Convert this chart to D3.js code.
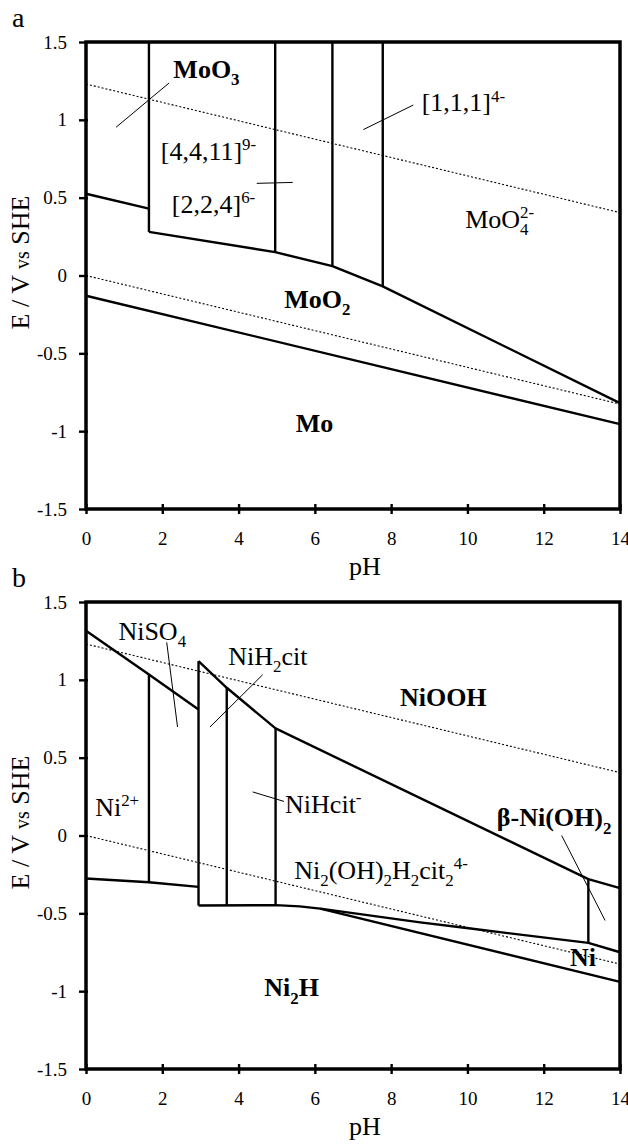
<!DOCTYPE html>
<html>
<head>
<meta charset="utf-8">
<script src="https://cdn.jsdelivr.net/npm/d3@7"></script>
<style>
  body { margin: 0; background: #fff; }
  svg text { font-family: "Liberation Serif", "Tinos", "Times New Roman", Times, "DejaVu Serif", "Noto Serif", "FreeSerif", serif !important; }
</style>
</head>
<body>
<div id="chart"></div>
<script>
// axis ticks
const phTicks = [0, 2, 4, 6, 8, 10, 12, 14];
const eTicks = [-1.5, -1, -0.5, 0, 0.5, 1, 1.5];

// water stability lines (pH, E)
const waterUpper = [[0, 1.23], [14, 0.404]];
const waterLower = [[0, 0], [14, -0.826]];

// panel a : Mo boundaries (pH, E)
const moO3Edge = [[0, 0.525], [1.65, 0.43]];
const moPolyVert1 = [[1.65, 1.5], [1.65, 0.28]];
const moPolyVert2 = [[4.96, 1.5], [4.96, 0.15]];
const moPolyVert3 = [[6.46, 1.5], [6.46, 0.06]];
const moPolyVert4 = [[7.78, 1.5], [7.78, -0.07]];
const moO2Upper = [[1.65, 0.28], [4.96, 0.15], [6.46, 0.06], [7.78, -0.07], [14, -0.82]];
const moLower = [[0, -0.13], [14, -0.955]];

// panel b : Ni boundaries (pH, E)
const niOxUpper = [[0, 1.316], [1.65, 1.034], [2.95, 0.81]];
const citOxUpper = [[2.95, 1.12], [3.69, 0.949], [4.97, 0.688], [13.17, -0.28], [14, -0.338]];
const niVert1 = [[1.65, 1.034], [1.65, -0.30]];
const niVert2 = [[2.95, 1.12], [2.95, -0.45]];
const niVert3 = [[3.69, 0.949], [3.69, -0.447]];
const niVert4 = [[4.97, 0.688], [4.97, -0.447]];
const niVert5 = [[13.17, -0.28], [13.17, -0.69]];
const niRedLower = [[0, -0.276], [1.65, -0.30], [2.95, -0.33]];
const citRedFlat = [[2.95, -0.45], [4.97, -0.447], [5.6, -0.455], [6.14, -0.47]];
const citRedUpper = [[6.14, -0.47], [8.76, -0.558], [10.03, -0.596], [13.17, -0.69], [14, -0.75]];
const niHydride = [[6.14, -0.47], [14, -0.94]];

// region labels: text parts, anchor (pH, E)
const moLabels = [
  {parts: [{t: "MoO"}, {t: "3", s: "sub"}], ph: 2.29, e: 1.269, bold: true},
  {parts: [{t: "[4,4,11]"}, {t: "9-", s: "sup"}], ph: 1.96, e: 0.744},
  {parts: [{t: "[2,2,4]"}, {t: "6-", s: "sup"}], ph: 2.25, e: 0.402},
  {parts: [{t: "[1,1,1]"}, {t: "4-", s: "sup"}], ph: 8.80, e: 1.054},
  {parts: [{t: "MoO"}, {t: "4", s: "sub"}, {t: "2-", s: "sup", back: 1}], ph: 9.94, e: 0.305},
  {parts: [{t: "MoO"}, {t: "2", s: "sub"}], ph: 5.20, e: -0.208, bold: true},
  {parts: [{t: "Mo"}], ph: 5.50, e: -1.007, bold: true}
];
const moLeaders = [
  [[2.18, 1.237], [0.787, 0.952]],
  [[4.476, 0.592], [5.42, 0.598]],
  [[8.58, 1.095], [7.27, 0.937]]
];

const niLabels = [
  {parts: [{t: "NiSO"}, {t: "4", s: "sub"}], ph: 0.85, e: 1.258},
  {parts: [{t: "NiH"}, {t: "2", s: "sub"}, {t: "cit"}], ph: 3.73, e: 1.097},
  {parts: [{t: "NiHcit"}, {t: "-", s: "sup"}], ph: 5.22, e: 0.145},
  {parts: [{t: "Ni"}, {t: "2", s: "sub"}, {t: "(OH)"}, {t: "2", s: "sub"}, {t: "H"}, {t: "2", s: "sub"},
           {t: "cit"}, {t: "2", s: "sub"}, {t: "4-", s: "sup"}], ph: 5.46, e: -0.277},
  {parts: [{t: "Ni"}, {t: "2+", s: "sup"}], ph: 0.24, e: 0.123},
  {parts: [{t: "NiOOH"}], ph: 8.23, e: 0.829, bold: true},
  {parts: [{t: "β-Ni(OH)"}, {t: "2", s: "sub"}], ph: 10.77, e: 0.059, bold: true},
  {parts: [{t: "Ni"}], ph: 12.69, e: -0.836, bold: true},
  {parts: [{t: "Ni"}, {t: "2", s: "sub"}, {t: "H"}], ph: 4.675, e: -1.033, bold: true}
];
const niLeaders = [
  [[2.116, 1.241], [2.40, 0.697]],
  [[4.633, 1.033], [3.25, 0.697]],
  [[4.37, 0.280], [5.19, 0.219]],
  [[12.47, 0.0], [13.61, -0.546]]
];

const width = 628, height = 1144;
const plotLeft = 86, plotRight = 620, plotH = 467;

const svg = d3.select("#chart").append("svg")
    .attr("width", width)
    .attr("height", height)
    .attr("viewBox", [0, 0, width, height]);

function richText(g, x, y, parts, fs, bold) {
  const t = g.append("text")
      .attr("x", x).attr("y", y)
      .attr("font-size", fs)
      .attr("font-weight", bold ? "bold" : null);
  let shift = 0, lastW = 0;
  parts.forEach(p => {
    const target = p.s === "sub" ? fs * 0.28 : p.s === "sup" ? -fs * 0.38 : 0;
    const ts = t.append("tspan").attr("dy", target - shift).text(p.t);
    if (p.s) ts.attr("font-size", fs * 0.65);
    if (p.back) ts.attr("dx", -lastW);
    lastW = p.s ? fs * 0.65 * 0.5 * p.t.length : 0;
    shift = target;
  });
  return t;
}

function drawPanel(top, letter, lines, dotted, labels, leaders) {
  const x = d3.scaleLinear().domain([0, 14]).range([plotLeft, plotRight]);
  const y = d3.scaleLinear().domain([-1.5, 1.5]).range([top + plotH, top]);
  const g = svg.append("g");
  const line = d3.line().x(d => x(d[0])).y(d => y(d[1]));

  // water lines
  dotted.forEach(d => g.append("path")
      .attr("d", line(d))
      .attr("fill", "none")
      .attr("stroke", "#000")
      .attr("stroke-width", 1.1)
      .attr("stroke-dasharray", "2,2"));

  // phase boundaries
  lines.forEach(d => g.append("path")
      .attr("d", line(d))
      .attr("fill", "none")
      .attr("stroke", "#000")
      .attr("stroke-width", 2.4)
      .attr("stroke-linejoin", "round"));

  // leader lines
  leaders.forEach(d => g.append("path")
      .attr("d", line(d))
      .attr("stroke", "#000")
      .attr("stroke-width", 1));

  labels.forEach(l => richText(g, x(l.ph), y(l.e), l.parts, 26, l.bold));

  // axes
  const xAxis = d3.axisBottom(x).tickValues(phTicks).tickSize(5).tickPadding(18).tickFormat(d => String(d));
  g.append("g")
      .attr("transform", `translate(0,${top + plotH})`)
      .call(xAxis)
      .call(a => a.select(".domain").remove())
      .call(a => a.selectAll(".tick line").attr("y1", -5).attr("stroke-width", 2.4))
      .call(a => a.selectAll(".tick text").attr("font-size", 19));

  const yAxis = d3.axisLeft(y).tickValues(eTicks).tickSize(7).tickPadding(12).tickFormat(d => String(d));
  g.append("g")
      .attr("transform", `translate(${plotLeft},0)`)
      .call(yAxis)
      .call(a => a.select(".domain").remove())
      .call(a => a.selectAll(".tick line").attr("x2", 2).attr("x1", -7).attr("stroke-width", 2.4))
      .call(a => a.selectAll(".tick text").attr("font-size", 19));

  // frame
  g.append("rect")
      .attr("x", plotLeft).attr("y", top)
      .attr("width", plotRight - plotLeft).attr("height", plotH)
      .attr("fill", "none")
      .attr("stroke", "#000")
      .attr("stroke-width", 3.5);

  // axis titles
  g.append("text")
      .attr("x", 365).attr("y", top + plotH + 66)
      .attr("text-anchor", "middle")
      .attr("font-size", 26)
      .text("pH");

  const yt = g.append("text")
      .attr("transform", `translate(29,${top + plotH / 2 - 13}) rotate(-90)`)
      .attr("text-anchor", "middle")
      .attr("font-size", 26);
  yt.append("tspan").text("E / V ");
  yt.append("tspan").attr("font-size", 20).text("vs");
  yt.append("tspan").text(" SHE");

  g.append("text")
      .attr("x", 12).attr("y", top - 15)
      .attr("font-size", 28)
      .text(letter);
}

drawPanel(42, "a",
  [moO3Edge, moPolyVert1, moPolyVert2, moPolyVert3, moPolyVert4, moO2Upper, moLower],
  [waterUpper, waterLower], moLabels, moLeaders);

drawPanel(602, "b",
  [niOxUpper, citOxUpper, niVert1, niVert2, niVert3, niVert4, niVert5, niRedLower, citRedFlat, citRedUpper, niHydride],
  [waterUpper, waterLower], niLabels, niLeaders);
</script>
</body>
</html>
